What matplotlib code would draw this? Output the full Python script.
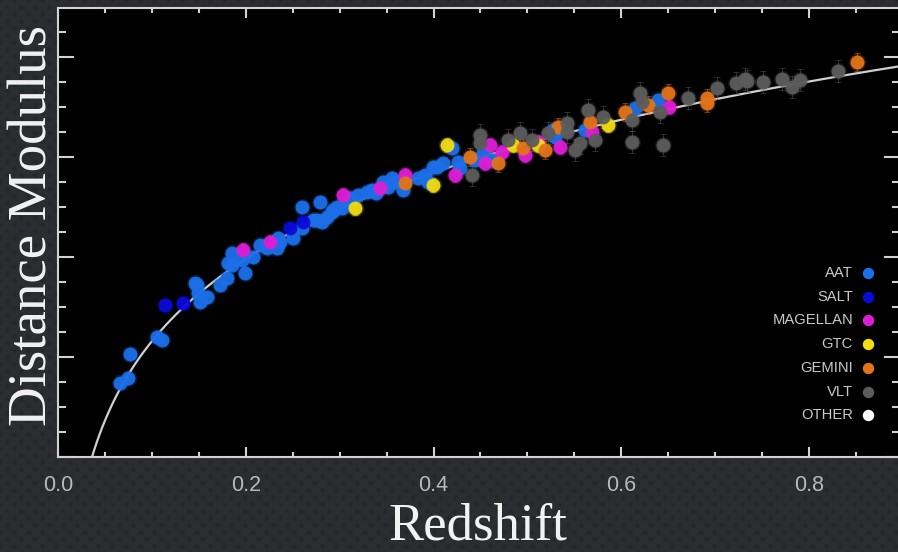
import numpy as np
import matplotlib
matplotlib.use("Agg")
import matplotlib.pyplot as plt
from matplotlib.ticker import MultipleLocator, FixedLocator, FixedFormatter

# ---------------------------------------------------------------------------
# Supernova distance moduli by telescope (redshift, distance modulus)
# ---------------------------------------------------------------------------
aat_z = [0.0658, 0.0743, 0.0764, 0.1052, 0.1106, 0.1458, 0.1479, 0.1489, 0.1585,
         0.1510, 0.1724, 0.1799, 0.1809, 0.1852, 0.1852, 0.1958, 0.1990, 0.2076,
         0.2150, 0.2225, 0.2342, 0.2332, 0.2364, 0.2502, 0.2598, 0.2598, 0.2790,
         0.2758, 0.2811, 0.2865, 0.2929, 0.2971, 0.2715, 0.2918, 0.3024, 0.3110,
         0.3195, 0.3291, 0.3344, 0.3387, 0.3461, 0.3515, 0.3558, 0.3590, 0.3675,
         0.3835, 0.3909, 0.3941, 0.4037, 0.4101, 0.3995, 0.4197, 0.4261, 0.4283,
         0.4443, 0.4528, 0.4624, 0.5274, 0.5295, 0.5615, 0.6148, 0.6393]
aat_mu = [37.47, 37.57, 38.05, 38.39, 38.33, 39.47, 39.43, 39.27, 39.19,
          39.09, 39.43, 39.57, 39.87, 39.83, 40.07, 39.93, 39.67, 39.99,
          40.23, 40.17, 40.37, 40.17, 40.29, 40.37, 40.57, 40.99, 41.09,
          40.73, 40.69, 40.79, 40.93, 40.99, 40.73, 40.89, 40.97, 41.17,
          41.23, 41.29, 41.33, 41.27, 41.49, 41.39, 41.57, 41.49, 41.33,
          41.57, 41.63, 41.49, 41.79, 41.87, 41.79, 42.17, 41.89, 41.77,
          41.93, 42.07, 41.93, 42.53, 42.39, 42.53, 42.97, 43.13]

salt_z = [0.1138, 0.1330, 0.2470, 0.2609]
salt_mu = [39.03, 39.07, 40.57, 40.69]

magellan_z = [0.1969, 0.2257, 0.3035, 0.3429, 0.3696, 0.4229, 0.4549, 0.4602,
              0.4730, 0.4975, 0.5114, 0.5349, 0.5690, 0.6511]
magellan_mu = [40.13, 40.29, 41.23, 41.37, 41.63, 41.63, 41.87, 42.23,
               42.09, 42.03, 42.29, 42.19, 42.49, 42.99]

gtc_z = [0.3163, 0.3995, 0.4144, 0.4847, 0.5114, 0.5860]
gtc_mu = [40.97, 41.43, 42.23, 42.23, 42.23, 42.63]

gemini_z = [0.3696, 0.4389, 0.4688, 0.4954, 0.5189, 0.5327, 0.5668, 0.6042,
            0.6287, 0.6500, 0.6916, 0.6916, 0.8515]
gemini_mu = [41.47, 41.99, 41.87, 42.17, 42.13, 42.59, 42.69, 42.89,
             43.03, 43.27, 43.17, 43.07, 43.89]

vlt_z = [0.4411, 0.4496, 0.4496, 0.4794, 0.4922, 0.5050, 0.5221, 0.5423, 0.5423,
         0.5509, 0.5562, 0.5647, 0.5722, 0.5807, 0.6116, 0.6116, 0.6202, 0.6223,
         0.6415, 0.6447, 0.6713, 0.7023, 0.7225, 0.7321, 0.7343, 0.7513, 0.7716,
         0.7823, 0.7908, 0.8313]
vlt_mu = [41.63, 42.43, 42.27, 42.33, 42.47, 42.33, 42.47, 42.67, 42.49,
          42.13, 42.27, 42.93, 42.33, 42.79, 42.73, 42.29, 43.27, 43.09,
          42.89, 42.23, 43.17, 43.37, 43.47, 43.55, 43.51, 43.49, 43.55,
          43.39, 43.53, 43.71]

other_z = []
other_mu = []

# typical 1-sigma uncertainty per telescope (mag)
typical_err = [0.10, 0.10, 0.14, 0.14, 0.18, 0.22, 0.15]

telescopes = ["AAT", "SALT", "MAGELLAN", "GTC", "GEMINI", "VLT", "OTHER"]
colors = ["#1c6fe8", "#0a0ad8", "#de1ed6", "#f2dc12", "#e2741a", "#5c5c5c", "#ffffff"]
series_z = [aat_z, salt_z, magellan_z, gtc_z, gemini_z, vlt_z, other_z]
series_mu = [aat_mu, salt_mu, magellan_mu, gtc_mu, gemini_mu, vlt_mu, other_mu]

# flat LCDM model curve
H0 = 70.0
Omega_m = 0.3
x_ticks = [0.0, 0.2, 0.4, 0.6, 0.8]
x_tick_labels = ["0.0", "0.2", "0.4", "0.6", "0.8"]


def distance_modulus(z_max, n=4000):
    c = 299792.458
    zz = np.linspace(0.0, z_max, n)
    inv_e = 1.0 / np.sqrt(Omega_m * (1 + zz) ** 3 + (1 - Omega_m))
    dc = c / H0 * np.concatenate([[0.0], np.cumsum(0.5 * (inv_e[1:] + inv_e[:-1]) * np.diff(zz))])
    dl = (1 + zz[1:]) * dc[1:]
    return zz[1:], 5 * np.log10(dl) + 25


# ---------------------------------------------------------------------------
W, H = 898, 552
fig = plt.figure(figsize=(W / 100, H / 100), dpi=100)
fig.patch.set_facecolor("#2b2d31")

# textured slide backdrop: faint darker dots on a diamond lattice
yy, xx = np.mgrid[0:H, 0:W]
per = 14.0
d1 = np.hypot((xx % per) - per / 2, (yy % per) - per / 2)
d2 = np.hypot(((xx + per / 2) % per) - per / 2, ((yy + per / 2) % per) - per / 2)
spot = np.exp(-(np.minimum(d1, d2) ** 2) / 6.0)
base = np.array([44, 46, 50]) / 255.0
tex = base[None, None, :] - 0.035 * spot[:, :, None]
fig.figimage(np.clip(tex, 0, 1), xo=0, yo=0, zorder=0, origin="upper")

ax_left, ax_right, ax_top, ax_bottom = 58.3, 900.0, 8.3, 456.7
ax = fig.add_axes([ax_left / W, (H - ax_bottom) / H,
                   (ax_right - ax_left) / W, (ax_bottom - ax_top) / H])
ax.set_facecolor("black")
ax.set_zorder(1)

ax.set_xlim(0.0, (ax_right - ax_left) / 938.0)
ax.set_ylim(36.0, 36.0 + (ax_bottom - ax_top) / 50.0)

# model curve
zc, muc = distance_modulus(0.92)
ax.plot(zc, muc, color="#cfcfcf", lw=1.6, zorder=2)

# data with error bars; a faint halo softens each marker
for name, col, zs, mus, err in zip(telescopes, colors, series_z, series_mu, typical_err):
    if not zs:
        continue
    ax.errorbar(zs, mus, yerr=err, fmt="none", ecolor=col, elinewidth=0.7,
                capsize=2.2, capthick=0.7, alpha=0.5, zorder=3)
    ax.scatter(zs, mus, s=150, color=col, linewidths=0, alpha=0.22, zorder=3.5)
    ax.scatter(zs, mus, s=90, color=col, edgecolors=col, linewidths=0.5,
               alpha=0.95, zorder=4)

# legend: labels right-aligned, dots to the right
leg_fp = dict(family=["Liberation Sans", "DejaVu Sans"], fontsize=10.6, color="#c9c9c9")
ax_w, ax_h = ax_right - ax_left, ax_bottom - ax_top
for i, (name, col) in enumerate(zip(telescopes, colors)):
    yrow = (ax_bottom - (273.0 + 23.7 * i)) / ax_h
    ax.text((853.0 - ax_left) / ax_w, yrow, name, transform=ax.transAxes,
            ha="right", va="center", zorder=5, **leg_fp)
    ax.scatter([(868.0 - ax_left) / ax_w], [yrow], s=52, color=col,
               transform=ax.transAxes, zorder=5, clip_on=False)

# axes frame and ticks
spine_col = "#d2d2d2"
for sp in ax.spines.values():
    sp.set_color(spine_col)
    sp.set_linewidth(1.5)

ax.xaxis.set_major_locator(FixedLocator(x_ticks))
ax.xaxis.set_major_formatter(FixedFormatter(x_tick_labels))
ax.xaxis.set_minor_locator(MultipleLocator(0.05))
ax.yaxis.set_major_locator(MultipleLocator(2.0))
ax.yaxis.set_minor_locator(MultipleLocator(0.5))

ax.tick_params(axis="x", which="both", direction="in", top=True, bottom=True,
               colors=spine_col, width=1.5)
ax.tick_params(axis="x", which="major", length=7.0, pad=13.5,
               labelsize=15.5, labelcolor="#b9b9b9")
ax.tick_params(axis="x", which="minor", length=3.5)
ax.tick_params(axis="y", which="both", direction="in", left=True, right=True,
               labelleft=False, colors=spine_col, width=1.5)
ax.tick_params(axis="y", which="major", length=11.5)
ax.tick_params(axis="y", which="minor", length=5.8)
for lab in ax.get_xticklabels():
    lab.set_family(["Liberation Sans", "DejaVu Sans"])

# axis titles
serif = ["Liberation Serif", "DejaVu Serif"]
fig.text(478 / W, (H - 540) / H, "Redshift", family=serif, fontsize=38,
         color="#f2f2f2", ha="center", va="baseline")
fig.text(47 / W, (H - 225.5) / H, "Distance Modulus", family=serif, fontsize=39.5,
         color="#f2f2f2", ha="center", va="baseline", rotation=90,
         rotation_mode="anchor")

fig.savefig("out.png", dpi=100, facecolor=fig.get_facecolor())
